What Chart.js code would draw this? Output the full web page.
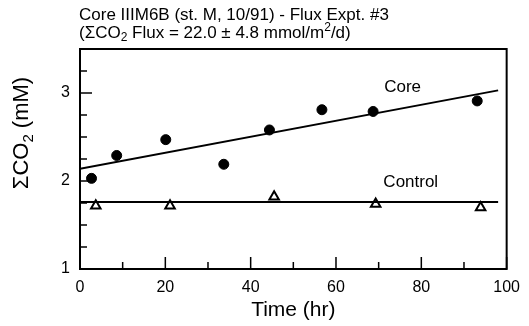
<!DOCTYPE html>
<html>
<head>
<meta charset="utf-8">
<script src="https://cdn.jsdelivr.net/npm/chart.js@4.4.1/dist/chart.umd.min.js"></script>
<style>
  html, body { margin: 0; padding: 0; background: #fff; }
  #wrap { width: 529px; height: 326px; }
</style>
</head>
<body>
<div id="wrap"><canvas id="fluxChart"></canvas></div>
<script>
// values
var coreTime = [2.7, 8.6, 20.1, 33.7, 44.4, 56.7, 68.7, 93.1];
var coreCO2 = [2.03, 2.29, 2.47, 2.19, 2.58, 2.81, 2.79, 2.91];
var controlTime = [3.7, 21.1, 45.5, 69.3, 93.9];
var controlCO2 = [1.72, 1.72, 1.82, 1.74, 1.70];
var fitTime = [0, 98];
var coreFit = [2.14, 3.03];
var controlFit = [1.76, 1.76];
var xTicks = [0, 20, 40, 60, 80, 100];
var yTicks = [1, 2, 3];

var FONT = "'Liberation Sans', Arial, sans-serif";
Chart.defaults.font.family = FONT;
Chart.defaults.color = "#000";

function pts(xs, ys) {
  return xs.map(function (x, i) { return { x: x, y: ys[i] }; });
}

// draws a run of [text, shift] pieces; shift >0 = subscript, <0 = superscript
function drawRich(ctx, parts, x, y, size) {
  parts.forEach(function (p) {
    var small = p[1] !== 0;
    ctx.font = (small ? Math.round(size * 0.7) : size) + "px " + FONT;
    ctx.fillText(p[0], x, y + p[1] * size);
    x += ctx.measureText(p[0]).width;
  });
  return x;
}
function richWidth(ctx, parts, size) {
  var w = 0;
  parts.forEach(function (p) {
    ctx.font = (p[1] !== 0 ? Math.round(size * 0.7) : size) + "px " + FONT;
    w += ctx.measureText(p[0]).width;
  });
  return w;
}

// box, inward ticks and text labels
var frame = {
  id: "frame",
  afterDatasetsDraw: function (chart) {
    var ctx = chart.ctx, a = chart.chartArea;
    var xs = chart.scales.x, ys = chart.scales.y;
    ctx.save();
    ctx.strokeStyle = "#000";
    ctx.lineWidth = 2;
    ctx.strokeRect(a.left, a.top, a.right - a.left, a.bottom - a.top);
    ctx.lineWidth = 1.5;
    ctx.beginPath();
    xs.ticks.forEach(function (t) {
      var px = xs.getPixelForValue(t.value);
      var len = xTicks.indexOf(t.value) >= 0 ? 12 : 7;
      ctx.moveTo(px, a.bottom);
      ctx.lineTo(px, a.bottom - len);
    });
    ys.ticks.forEach(function (t) {
      var py = ys.getPixelForValue(t.value);
      var len = yTicks.indexOf(t.value) >= 0 ? 12 : 7;
      ctx.moveTo(a.left, py);
      ctx.lineTo(a.left + len, py);
    });
    ctx.stroke();

    ctx.fillStyle = "#000";
    ctx.textBaseline = "middle";
    ctx.textAlign = "left";
    ctx.font = "17px " + FONT;
    ctx.fillText("Core", xs.getPixelForValue(71.3), ys.getPixelForValue(3.07));
    ctx.fillText("Control", xs.getPixelForValue(71.1), ys.getPixelForValue(1.98));

    // title
    ctx.font = "17px " + FONT;
    ctx.fillText("Core IIIM6B (st. M, 10/91) - Flux Expt. #3", 79, 15);
    drawRich(ctx, [["(ΣCO", 0], ["2", 0.3], [" Flux = 22.0 ± 4.8 mmol/m", 0], ["2", -0.3], ["/d)", 0]], 79, 33, 17);

    // axis titles
    ctx.textAlign = "center";
    ctx.font = "21px " + FONT;
    ctx.fillText("Time (hr)", (a.left + a.right) / 2, 310);
    ctx.textAlign = "left";
    var yParts = [["ΣCO", 0], ["2", 0.3], [" (mM)", 0]];
    ctx.translate(22, 133);
    ctx.rotate(-Math.PI / 2);
    drawRich(ctx, yParts, -richWidth(ctx, yParts, 22) / 2, 0, 22);
    ctx.restore();
  }
};

var ctx = document.getElementById("fluxChart");
var fluxChart = new Chart(ctx, {
  type: "scatter",
  data: {
    datasets: [
      {
        label: "Core fit",
        data: pts(fitTime, coreFit),
        showLine: true,
        borderColor: "#000",
        borderWidth: 2,
        pointRadius: 0
      },
      {
        label: "Control fit",
        data: pts(fitTime, controlFit),
        showLine: true,
        borderColor: "#000",
        borderWidth: 2,
        pointRadius: 0
      },
      {
        label: "Core",
        data: pts(coreTime, coreCO2),
        pointStyle: "circle",
        pointRadius: 5,
        backgroundColor: "#000",
        borderColor: "#000"
      },
      {
        label: "Control",
        data: pts(controlTime, controlCO2),
        pointStyle: "triangle",
        pointRadius: 5.5,
        borderWidth: 2,
        backgroundColor: "#fff",
        borderColor: "#000"
      }
    ]
  },
  options: {
    responsive: true,
    maintainAspectRatio: false,
    animation: false,
    layout: { padding: { top: 49, right: 17, left: 0, bottom: 0 } },
    plugins: {
      legend: { display: false },
      tooltip: { enabled: false }
    },
    scales: {
      x: {
        min: 0,
        max: 100,
        grid: { display: false, drawTicks: false },
        border: { display: false },
        afterFit: function (s) { s.height = 57; },
        ticks: {
          stepSize: 10,
          padding: 9,
          maxRotation: 0,
          autoSkip: false,
          font: { size: 16 },
          callback: function (v) { return xTicks.indexOf(v) >= 0 ? v : ""; }
        }
      },
      y: {
        min: 1,
        max: 3.5,
        grid: { display: false, drawTicks: false },
        border: { display: false },
        afterFit: function (s) { s.width = 80; },
        ticks: {
          stepSize: 0.25,
          padding: 10,
          autoSkip: false,
          font: { size: 16 },
          callback: function (v) { return yTicks.indexOf(v) >= 0 ? v : ""; }
        }
      }
    }
  },
  plugins: [frame]
});
</script>
</body>
</html>
